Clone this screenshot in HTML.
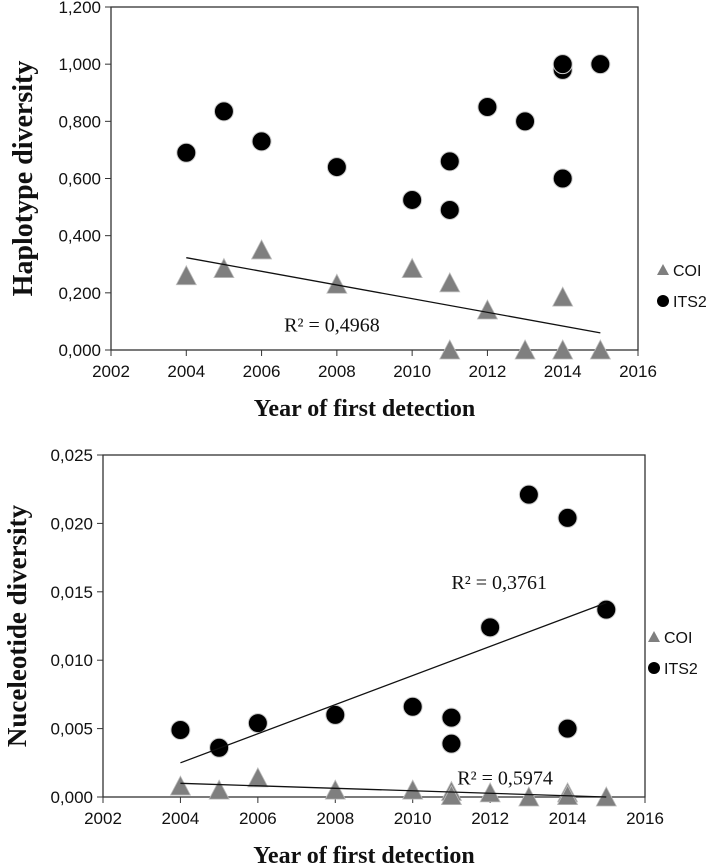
<!DOCTYPE html>
<html><head><meta charset="utf-8"><style>
html,body{margin:0;padding:0;background:#fff;width:712px;height:863px;overflow:hidden}
svg text{font-family:"Liberation Sans",sans-serif}
svg text.ttl{font-family:"Liberation Serif",serif;font-weight:bold}
svg text.r2{font-family:"Liberation Serif",serif}
</style></head><body>
<svg id="svg" width="712" height="863"></svg>
<script>
const years=[2002,2004,2006,2008,2010,2012,2014,2016];
const hapTicks=["0,000","0,200","0,400","0,600","0,800","1,000","1,200"];
const hapTickVals=[0,0.2,0.4,0.6,0.8,1.0,1.2];
const nucTicks=["0,000","0,005","0,010","0,015","0,020","0,025"];
const nucTickVals=[0,0.005,0.01,0.015,0.02,0.025];
const hapItsX=[2004,2005,2006,2008,2010,2011,2011,2012,2013,2014,2014,2014,2015];
const hapItsY=[0.69,0.835,0.73,0.64,0.525,0.66,0.49,0.85,0.80,0.98,1.0,0.60,1.0];
const hapCoiX=[2004,2005,2006,2008,2010,2011,2011,2012,2013,2014,2014,2015];
const hapCoiY=[0.26,0.285,0.35,0.23,0.285,0.235,0,0.14,0,0.185,0,0];
const hapTrendX=[2004,2015];
const hapTrendY=[0.323,0.06];
const nucItsX=[2004,2005,2006,2008,2010,2011,2011,2012,2013,2014,2014,2015];
const nucItsY=[0.0049,0.0036,0.0054,0.0060,0.0066,0.0058,0.0039,0.0124,0.0221,0.0204,0.0050,0.0137];
const nucCoiX=[2004,2005,2006,2008,2010,2011,2011,2012,2013,2014,2014,2015];
const nucCoiY=[0.0008,0.0005,0.0014,0.0005,0.0005,0.0004,0.0001,0.0003,0,0.0003,0.0001,0];
const nucItsTrendX=[2004,2015];
const nucItsTrendY=[0.0025,0.0142];
const nucCoiTrendX=[2004,2015];
const nucCoiTrendY=[0.001,0];

const svg=document.getElementById('svg');
const NS='http://www.w3.org/2000/svg';
function mk(tag,attrs,parent){const e=document.createElementNS(NS,tag);for(const k in attrs)e.setAttribute(k,attrs[k]);(parent||svg).appendChild(e);return e;}

function panel(o){
  const g=mk('g',{});
  
  
  const sx=v=>o.x0+(v-2002)/(14)*(o.x1-o.x0);
  const sy=v=>o.y0-(v/o.ymax)*(o.y0-o.y1);
  const frame=mk('rect',{x:o.x0,y:o.y1,width:o.x1-o.x0,height:o.y0-o.y1,fill:'none',stroke:'#333','stroke-width':1.3},g);
  
  
  years.forEach(y=>{
    mk('line',{x1:sx(y),x2:sx(y),y1:o.y0,y2:o.y0+6,stroke:'#333'},g);
    const t=mk('text',{x:sx(y),y:o.y0+27,'text-anchor':'middle','font-size':17,fill:'#111'},g);
    t.textContent=y;
    
    
  });
  o.ticks.forEach((lab,i)=>{
    const yy=sy(o.tickVals[i]);
    mk('line',{x1:o.x0-6,x2:o.x0,y1:yy,y2:yy,stroke:'#333'},g);
    const t=mk('text',{x:o.x0-10,y:yy+6,'text-anchor':'end','font-size':17,fill:'#111'},g);
    t.textContent=lab;
    
    
  });
  o.coiX.forEach((x,i)=>{
    const cx=sx(x),cy=sy(o.coiY[i]);
    const p=mk('polygon',{points:`${cx-10},${cy+9} ${cx+10},${cy+9} ${cx},${cy-10}`,fill:'#7f7f7f',stroke:'#bbb','stroke-width':0.8},g);
    
    
  });
  o.itsX.forEach((x,i)=>{
    const c=mk('circle',{cx:sx(x),cy:sy(o.itsY[i]),r:9.5,fill:'#000',stroke:'#ccc','stroke-width':1},g);
    
    
  });
  o.trends.forEach(tr=>{
    const l=mk('line',{x1:sx(tr.x[0]),y1:sy(tr.y[0]),x2:sx(tr.x[1]),y2:sy(tr.y[1]),stroke:'#111','stroke-width':1.3},g);
    
    
  });
  o.r2.forEach(r=>{
    const t=mk('text',{x:sx(r.x),y:sy(r.y),'font-size':20,class:'r2',fill:'#111'},g);
    t.textContent=r.t;
    
    
  });
  const xt=mk('text',{x:(o.x0+o.x1)/2-10,y:o.y0+66,'text-anchor':'middle','font-size':24,class:'ttl',fill:'#111'},g);
  xt.textContent='Year of first detection';
  
  
  const yt=mk('text',{x:0,y:0,'text-anchor':'middle','font-size':o.ytsize,class:'ttl',fill:'#111',transform:`translate(${o.ytx},${(o.y0+o.y1)/2}) rotate(-90)`},g);
  yt.textContent=o.ytitle;
  
  
  const lg=mk('g',{},g);
  
  
  const lx=o.lx,ly=o.ly;
  mk('polygon',{points:`${lx-6},${ly+5} ${lx+6},${ly+5} ${lx},${ly-6}`,fill:'#7f7f7f'},lg);
  let t=mk('text',{x:lx+10,y:ly+6,'font-size':16,fill:'#111'},lg);t.textContent='COI';
  
  
  mk('circle',{cx:lx,cy:ly+31,r:6,fill:'#000'},lg);
  t=mk('text',{x:lx+10,y:ly+37,'font-size':16,fill:'#111'},lg);t.textContent='ITS2';
  
  
}

panel({name:'haplotype-chart',x0:111,x1:638,y0:350,y1:7,ymax:1.2,ticks:hapTicks,tickVals:hapTickVals,
  itsX:hapItsX,itsY:hapItsY,coiX:hapCoiX,coiY:hapCoiY,
  trends:[{x:hapTrendX,y:hapTrendY}],
  r2:[{x:2006.6,y:0.065,t:'R² = 0,4968'}],
  ytitle:'Haplotype diversity',ytsize:28,ytx:32,lx:663,ly:270});
panel({name:'nucleotide-chart',x0:103,x1:645,y0:797,y1:455,ymax:0.025,ticks:nucTicks,tickVals:nucTickVals,
  itsX:nucItsX,itsY:nucItsY,coiX:nucCoiX,coiY:nucCoiY,
  trends:[{x:nucItsTrendX,y:nucItsTrendY},{x:nucCoiTrendX,y:nucCoiTrendY}],
  r2:[{x:2011.0,y:0.0152,t:'R² = 0,3761'},{x:2011.15,y:0.0009,t:'R² = 0,5974'}],
  ytitle:'Nuceleotide diversity',ytsize:27,ytx:26,lx:654,ly:637});
</script>
</body></html>
